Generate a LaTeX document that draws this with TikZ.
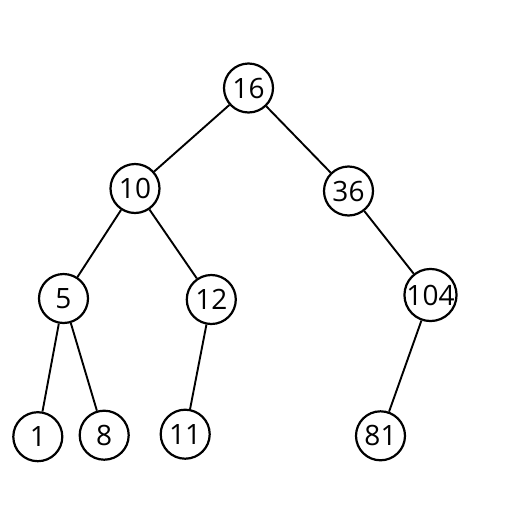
\documentclass[tikz,border=0pt]{standalone}
\usepackage{fontspec}
\setmainfont{Open Sans}
\begin{document}
\begin{tikzpicture}[x=1pt,y=-1pt,
  tn/.style={circle,draw,line width=2.2pt,minimum size=49pt,inner sep=0pt,font=\fontsize{28}{28}\selectfont},
  ed/.style={line width=1.9pt}]
\useasboundingbox (0,0) rectangle (512,512);
\node[tn] (n16) at (248.5,88) {16};
\node[tn] (n10) at (135,188.5) {10};
\node[tn] (n36) at (348.5,191) {36};
\node[tn] (n5) at (63.5,298.5) {5};
\node[tn] (n12) at (211.3,299.5) {12};
\node[tn] (n104) at (430.5,295) {104};
\node[tn] (n1) at (37.8,436.7) {1};
\node[tn] (n8) at (104.2,435.2) {8};
\node[tn] (n11) at (185.2,434.2) {11};
\node[tn] (n81) at (380.5,435.8) {81};
\draw[ed] (n16) -- (n10);
\draw[ed] (n16) -- (n36);
\draw[ed] (n10) -- (n5);
\draw[ed] (n10) -- (n12);
\draw[ed] (n36) -- (n104);
\draw[ed] (n5) -- (n1);
\draw[ed] (n5) -- (n8);
\draw[ed] (n12) -- (n11);
\draw[ed] (n104) -- (n81);
\end{tikzpicture}
\end{document}
